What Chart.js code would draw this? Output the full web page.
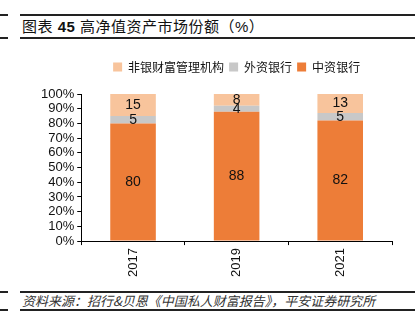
<!DOCTYPE html>
<html lang="zh">
<head>
    <meta charset="UTF-8">
    <title>高净值资产市场份额</title>
    <script src="https://cdn.jsdelivr.net/npm/chart.js@4.4.0/dist/chart.umd.min.js"></script>
    <style>
        body {
            margin: 0;
            width: 420px;
            height: 332px;
            background: #fff;
            position: relative;
            overflow: hidden;
            font-family: 'Liberation Sans', 'Noto Sans CJK SC', sans-serif;
        }
        .rule {
            position: absolute;
            height: 1.5px;
            background: #222;
        }
        .title {
            position: absolute;
            left: 22px;
            top: 15px;
            font-size: 15px;
            color: #111;
            letter-spacing: 0.5px;
            font-family: 'Liberation Sans', 'Noto Sans CJK SC', sans-serif;
        }
        .source {
            position: absolute;
            left: 22px;
            top: 291px;
            font-size: 13px;
            font-style: italic;
            color: #333;
            font-family: 'Noto Sans CJK SC', sans-serif;
        }
        #chartBox {
            position: absolute;
            left: 0;
            top: 56px;
            width: 420px;
            height: 224px;
        }
    </style>
</head>
<body>
    <!-- frame lines -->
    <div class="rule" style="left:0;width:8px;top:14px"></div>
    <div class="rule" style="left:20px;width:395px;top:14px"></div>
    <div class="rule" style="left:0;width:8px;top:37px"></div>
    <div class="rule" style="left:20px;width:395px;top:37px"></div>
    <div class="rule" style="left:0;width:8px;top:291px"></div>
    <div class="rule" style="left:20px;width:395px;top:291px"></div>
    <div class="rule" style="left:0;width:8px;top:309px"></div>
    <div class="rule" style="left:20px;width:395px;top:309px"></div>

    <div class="title">图表 <b>45</b> 高净值资产市场份额（%）</div>
    <div class="source">资料来源：招行&amp;贝恩《中国私人财富报告》，平安证券研究所</div>

    <div id="chartBox"><canvas id="shareChart"></canvas></div>

    <script>
        // data
        const years = ['2017', '2019', '2021'];
        const domesticBanks = [80, 88, 82];
        const foreignBanks = [5, 4, 5];
        const nonBankWealth = [15, 8, 13];
        const yTicks = [0, 10, 20, 30, 40, 50, 60, 70, 80, 90, 100];

        // numbers in the middle of each segment
        const segmentLabels = {
            id: 'segmentLabels',
            afterDatasetsDraw(chart) {
                const ctx = chart.ctx;
                ctx.save();
                ctx.font = '14px "Liberation Sans", sans-serif';
                ctx.fillStyle = '#111';
                ctx.textAlign = 'center';
                ctx.textBaseline = 'middle';
                chart.data.datasets.forEach((ds, i) => {
                    chart.getDatasetMeta(i).data.forEach((bar, j) => {
                        const mid = (bar.y + bar.base) / 2;
                        ctx.fillText(ds.data[j], bar.x, mid);
                    });
                });
                ctx.restore();
            }
        };

        // extra gap under the legend, and centre it over the plot area
        const legendGap = {
            id: 'legendGap',
            beforeInit(chart) {
                const fit = chart.legend.fit;
                chart.legend.fit = function () {
                    fit.bind(chart.legend)();
                    this.height += 11;
                };
            },
            afterLayout(chart) {
                const lg = chart.legend;
                const shift = (chart.chartArea.left + chart.chartArea.right) / 2 - (lg.left + lg.right) / 2;
                lg.left += shift;
                lg.right += shift;
            }
        };

        var ctx = document.getElementById('shareChart').getContext('2d');
        var shareChart = new Chart(ctx, {
            type: 'bar',
            data: {
                labels: years,
                datasets: [
                    { label: '中资银行', data: domesticBanks, backgroundColor: '#ED7D38' },
                    { label: '外资银行', data: foreignBanks, backgroundColor: '#C8C8C8' },
                    { label: '非银财富管理机构', data: nonBankWealth, backgroundColor: '#F8C49C' }
                ]
            },
            options: {
                responsive: true,
                maintainAspectRatio: false,
                animation: false,
                layout: { padding: { left: 38, right: 28, top: 0, bottom: 0 } },
                datasets: {
                    bar: { categoryPercentage: 1, barPercentage: 0.44 }
                },
                plugins: {
                    tooltip: { enabled: false },
                    legend: {
                        position: 'top',
                        reverse: true,
                        labels: {
                            boxWidth: 9,
                            boxHeight: 9,
                            padding: 5,
                            color: '#111',
                            font: { size: 12, family: '"Noto Sans CJK SC", sans-serif' }
                        }
                    }
                },
                scales: {
                    x: {
                        stacked: true,
                        border: { color: '#000', width: 1 },
                        grid: { offset: true, drawOnChartArea: false, tickLength: 4, color: '#000' },
                        ticks: {
                            maxRotation: 90,
                            minRotation: 90,
                            color: '#111',
                            font: { size: 13, family: '"Liberation Sans", sans-serif' }
                        }
                    },
                    y: {
                        stacked: true,
                        min: 0,
                        max: 100,
                        afterBuildTicks: axis => { axis.ticks = yTicks.map(v => ({ value: v })); },
                        border: { color: '#000', width: 1 },
                        grid: { drawOnChartArea: false, tickLength: 4, color: '#000' },
                        ticks: {
                            autoSkip: false,
                            color: '#111',
                            padding: 3,
                            font: { size: 13, family: '"Liberation Sans", sans-serif' },
                            callback: v => v + '%'
                        }
                    }
                }
            },
            plugins: [segmentLabels, legendGap]
        });
    </script>
</body>
</html>
